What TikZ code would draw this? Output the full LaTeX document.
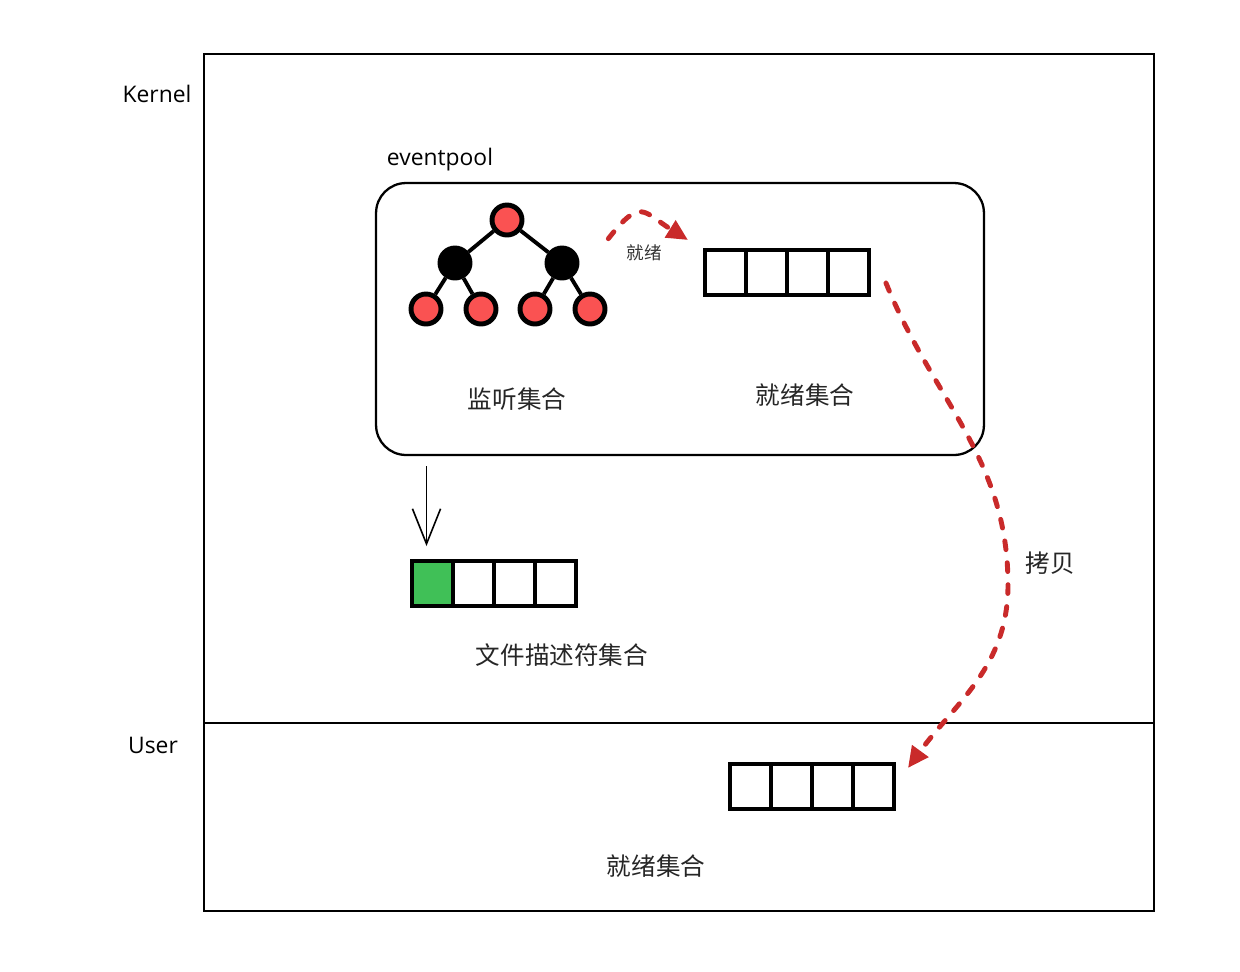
\documentclass[tikz,border=0pt]{standalone}
\usepackage{fontspec}
\setmainfont{Open Sans}
\newfontfamily\cjk{Noto Sans CJK SC}
\usetikzlibrary{arrows.meta,chains,positioning,calc}
\definecolor{leafred}{HTML}{FA5252}
\definecolor{fdgreen}{HTML}{40C057}
\definecolor{copyred}{HTML}{C92A2A}
\tikzset{cell/.style={draw, line width=2.7pt, minimum width=0.82cm, minimum height=0.9cm, inner sep=0pt, outer sep=0pt, on chain},
  treeleaf/.style={circle, draw, line width=2.8pt, fill=leafred, minimum size=0.6cm, inner sep=0pt},
  treeinner/.style={treeleaf, fill=black},
  treeedge/.style={line width=2.2pt},
  frame/.style={line width=1.1pt},
  copyarrow/.style={draw=copyred, line width=2.8pt, line cap=round, dash pattern=on 5pt off 7.5pt, -{Triangle[length=12pt,width=11pt,fill=copyred,line cap=butt]}},
  caption/.style={font=\cjk\fontsize{14}{16}\selectfont, text=black!85},
  hand/.style={font=\fontsize{13}{15}\selectfont}}

\begin{document}
\begin{tikzpicture}[x=0.02cm, y=-0.02cm, node distance=0pt]
    \useasboundingbox (0,0) rectangle (1240,971);
    % kernel and user space
    \draw[frame] (204,54) rectangle (1154,723);
    \draw[frame] (204,723) rectangle (1154,911);
    \node[hand] (kernel) at (157,94) {Kernel};
    \node[hand] (user) at (153,745) {User};

    % eventpool
    \node[draw, line width=1.3pt, rounded corners=0.6cm, minimum width=12.16cm, minimum height=5.44cm] (pool) at (680,319) {};
    \node[hand] (poolname) at (440,160) {eventpool};

    % red-black tree
    \node[treeleaf] (root) at (507,220) {};
    \node[treeinner] (L) at (455,263) {};
    \node[treeinner] (R) at (562,263) {};
    \node[treeleaf] (LL) at (426,309) {};
    \node[treeleaf] (LR) at (481,309) {};
    \node[treeleaf] (RL) at (535,309) {};
    \node[treeleaf] (RR) at (590,309) {};
    \draw[treeedge] (root) -- (L) (root) -- (R);
    \draw[treeedge] (L) -- (LL) (L) -- (LR) (R) -- (RL) (R) -- (RR);
    \node[caption] (listen) at (517,399) {监听集合};

    % ready list in eventpool
    \begin{scope}[start chain=ready going right]
        \node[cell] (R1) at (725.5,272.5) {};
        \node[cell] (R2) {};
        \node[cell] (R3) {};
        \node[cell] (R4) {};
    \end{scope}
    \node[caption] (readyname) at (805,395) {就绪集合};
    \draw[copyarrow] ($(RR.north east)+(6,-58)$) to[out=52, in=148, looseness=1.7] ($(R1.north west)+(-17,-10)$);
    \node[font=\cjk\fontsize{10}{12}\selectfont, text=black!80] (readytag) at (644,253) {就绪};

    % fd set
    \begin{scope}[start chain=fd going right]
        \node[cell, fill=fdgreen] (F1) at (432.5,583.5) {};
        \node[cell] (F2) {};
        \node[cell] (F3) {};
        \node[cell] (F4) {};
    \end{scope}
    \node[caption] (fdname) at (562,655) {文件描述符集合};
    \draw[line width=0.9pt, -{Straight Barb[length=20pt,width=16pt]}] (pool.south west -| F1.north) ++(-6,10) coordinate (down) -- ($(F1.north)+(-6,-15)$);

    % ready list in user space
    \begin{scope}[start chain=usr going right]
        \node[cell] (U1) at (750.5,786.5) {};
        \node[cell] (U2) {};
        \node[cell] (U3) {};
        \node[cell] (U4) {};
    \end{scope}
    \node[caption] (usrname) at (656,866) {就绪集合};
    \draw[copyarrow] ($(R4.south east)+(17,-12)$) to[out=-68, in=90] (1008,585) to[out=-90, in=54] ($(U4.north east)+(14,4)$);
    \node[caption] (copytag) at (1050,563) {拷贝};
\end{tikzpicture}
\end{document}
